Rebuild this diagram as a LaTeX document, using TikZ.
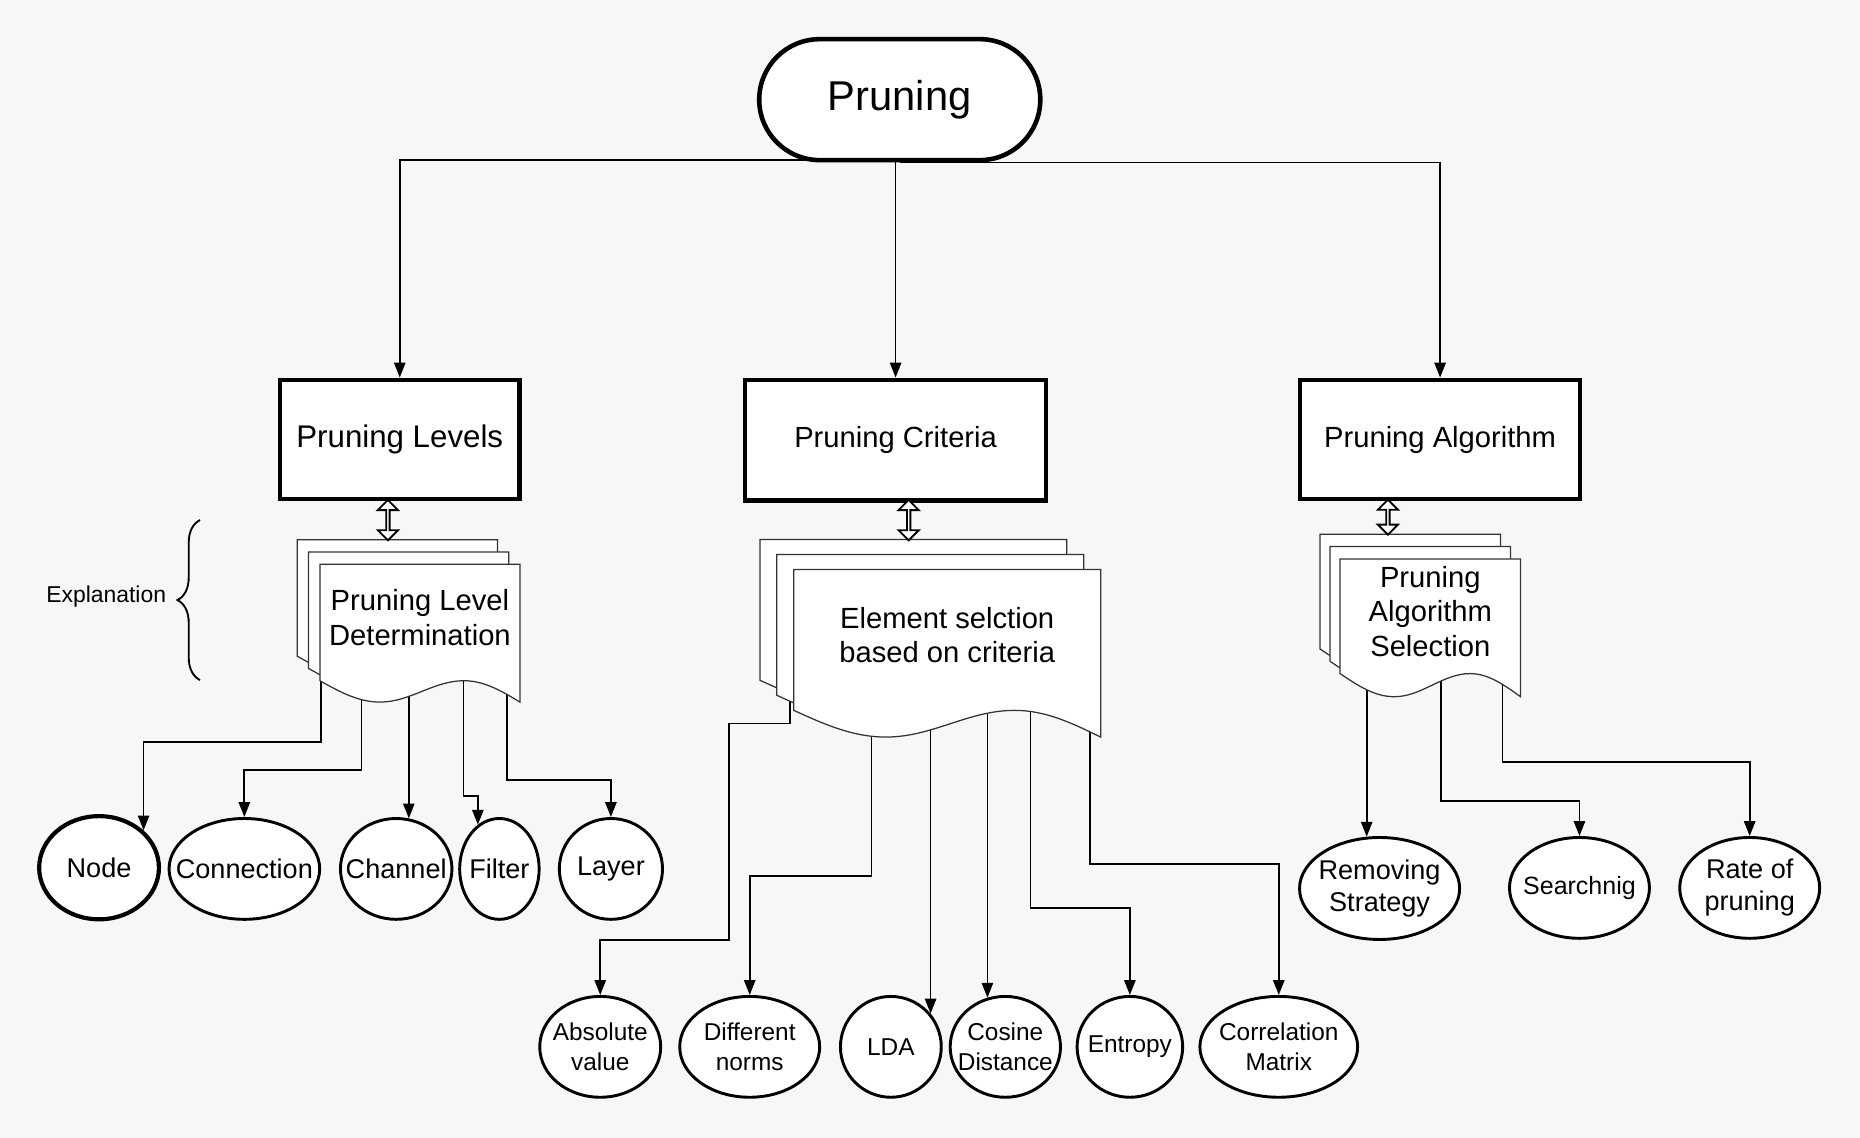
\documentclass[tikz,border=0pt]{standalone}
\usepackage{fontspec}
\setmainfont{Liberation Sans}
\usetikzlibrary{arrows.meta,positioning,shapes.geometric,shapes.arrows,
                calc,decorations.pathreplacing}
\definecolor{PaperGray}{HTML}{F7F7F7}
\definecolor{PageLine} {HTML}{333333}
\pgfdeclarelayer{backdrop}
\pgfdeclarelayer{edges}
\pgfdeclarelayer{pages}
\pgfsetlayers{backdrop,edges,pages,main}
\tikzset{
  topbox/.style={rectangle,rounded corners=1.02cm,draw,line width=2.2pt,fill=white,
                 minimum width=4.74cm,minimum height=2.04cm,
                 font=\fontsize{20}{24}\selectfont},
  headbox/.style={rectangle,draw,line width=2pt,fill=white,minimum height=2.02cm,
                  font=\fontsize{14}{17}\selectfont},
  docbox/.style={rectangle,inner sep=0pt},
  doctext/.style={align=center,yshift=0.08cm,font=\fontsize{14}{16.5}\selectfont},
  page/.style={draw=PageLine,line width=0.6pt,fill=white},
  leaf/.style={ellipse,draw,line width=1.4pt,fill=white,inner sep=-0.35cm,
               minimum height=1.70cm,align=center,font=\fontsize{13}{15.4}\selectfont},
  smallleaf/.style={leaf,font=\fontsize{11.7}{14}\selectfont},
  arr/.style={-{Triangle[length=0.25cm,width=0.19cm]},line width=0.85pt},
  link/.style={double arrow,draw,line width=0.9pt,fill=white,rotate=90,inner sep=0pt,
               minimum height=0.68cm,minimum width=0.34cm,
               double arrow head extend=0.08cm},
  brace/.style={decorate,decoration={brace,amplitude=0.38cm},line width=0.9pt},
}
% one sheet of a stacked document, moved by (#2,#3), wavy bottom of depth #4
\newcommand{\docpage}[4]{%
  \draw[page] ($(#1.south west)+(#2,#3)$)
    sin ($(#1.south west)!0.3!(#1.south east)+(#2,#3+#4)$)
    cos ($(#1.south west)!0.51!(#1.south east)+(#2,#3+#4/2)$)
    sin ($(#1.south west)!0.72!(#1.south east)+(#2,#3)$)
    cos ($(#1.south east)+(#2,#3+#4)$)
    -- ($(#1.north east)+(#2,#3)$) -- ($(#1.north west)+(#2,#3)$) -- cycle;}
\newcommand{\multidoc}[4]{%
  \docpage{#1}{-2*#2}{-2*#3}{#4}
  \docpage{#1}{-#2}{-#3}{#4}
  \docpage{#1}{0}{0}{#4}}

\begin{document}
\begin{tikzpicture}[x=0.02cm,y=-0.02cm]

  \begin{pgfonlayer}{backdrop}
    \fill[PaperGray] (0,0) rectangle (1568,959);
  \end{pgfonlayer}
  \useasboundingbox (0,0) rectangle (1568,959);

  % root and the three branches
  \node[topbox] (top) at (758.5,84) {Pruning};
  \node[headbox,minimum width=4.04cm,font=\fontsize{15}{18}\selectfont] (lev) at (337,370.5) {Pruning Levels};
  \node[headbox,minimum width=5.08cm,minimum height=2.04cm] (cri) at (755,371) {Pruning Criteria};
  \node[headbox,minimum width=4.72cm] (alg) at (1214,370.5) {Pruning Algorithm};

  % explanation documents
  \node[docbox,minimum width=3.36cm,minimum height=1.95cm,
        label={[doctext]center:Pruning Level\\Determination}] (levdoc) at (354,524.75) {};
  \node[docbox,minimum width=5.16cm,minimum height=2.36cm,
        label={[doctext]center:Element selction\\based on criteria}] (cridoc) at (798.5,539.5) {};
  \node[docbox,minimum width=3.03cm,minimum height=1.92cm,
        label={[doctext]center:Pruning\\Algorithm\\Selection}] (algdoc) at (1205.75,519.5) {};

  \node[link] (levlink) at (327,438.5) {};
  \node[link] (crilink) at (766,438.5) {};
  \node[link,minimum height=0.59cm] (alglink) at (1170,436) {};

  \node[font=\fontsize{11}{13}\selectfont] (expl) at (89.5,503) {Explanation};
  \draw[brace] (168.6,573.3) -- (168.6,438.4);

  % levels
  \node[leaf,line width=2pt,minimum width=2.02cm,minimum height=1.74cm] (nodeL) at (83.5,731.5) {Node};
  \node[leaf,minimum width=2.54cm] (conn) at (206,732.5) {Connection};
  \node[leaf,minimum width=1.88cm] (chan) at (334,732.5) {Channel};
  \node[leaf,minimum width=1.34cm] (filt) at (421,732.5) {Filter};
  \node[leaf,minimum width=1.74cm] (layr) at (515,732.5) {Layer};

  % criteria
  \node[smallleaf,minimum width=2.04cm] (absv) at (506,882.5) {Absolute\\value};
  \node[smallleaf,minimum width=2.36cm] (norm) at (632,882.5) {Different\\norms};
  \node[smallleaf,minimum width=1.70cm] (lda) at (751,882.5) {LDA};
  \node[smallleaf,minimum width=1.86cm] (cosd) at (847.5,882.5) {Cosine\\Distance};
  \node[smallleaf,minimum width=1.78cm] (entr) at (952.5,882.5) {Entropy};
  \node[smallleaf,minimum width=2.66cm] (corr) at (1078,882.5) {Correlation\\Matrix};

  % algorithm
  \node[leaf,minimum width=2.70cm,minimum height=1.72cm] (remv) at (1163,749) {Removing\\Strategy};
  \node[leaf,minimum width=2.36cm,font=\fontsize{12}{14}\selectfont] (srch) at (1331.5,748.5) {Searchnig};
  \node[leaf,minimum width=2.36cm] (rate) at (1475,748.5) {Rate of\\pruning};

  \begin{pgfonlayer}{pages}
    \multidoc{levdoc}{9.5}{10.3}{18}
    \multidoc{cridoc}{14.3}{12.7}{22.5}
    \multidoc{algdoc}{8.5}{10.4}{19.5}
  \end{pgfonlayer}

  \begin{pgfonlayer}{edges}
    \draw[arr] ($(top.south)+(0,-2)$) -| (lev.north);
    \draw[arr] (top.south -| cri.north) -- (cri.north);
    \draw[arr] (top.south) -| (alg.north);

    \draw[arr] ($(levdoc.south west)+(1,0)$) -- ++(0,51.5) -| (nodeL.40);
    \draw[arr] ($(levdoc.south west)+(35,0)$) -- ++(0,75.5) -| (conn.north);
    \draw[arr] (levdoc.south -| chan.76) -- (chan.76);
    \draw[arr] ($(levdoc.south west)+(121,0)$) -- ++(0,97.5) -| (filt.116);
    \draw[arr] ($(levdoc.south west)+(158,0)$) -- ++(0,83.5) -| (layr.north);

    \draw[arr] ($(cridoc.south west)+(-3.5,-20)$) -- ++(0,31) -- ++(-51,0) -- ++(0,182.5) -| (absv.north);
    \draw[arr] ($(cridoc.south west)+(65.5,0)$) -- ++(0,139.5) -| (norm.north);
    \draw[arr] (cridoc.south -| lda.40) -- (lda.40);
    \draw[arr] (cridoc.south -| cosd.110) -- (cosd.110);
    \draw[arr] ($(cridoc.south west)+(199.5,0)$) -- ++(0,166.5) -| (entr.north);
    \draw[arr] ($(cridoc.south west)+(249.5,0)$) -- ++(0,129.5) -| (corr.north);

    \draw[arr] (algdoc.south -| remv.104) -- (remv.104);
    \draw[arr] ($(algdoc.south west)+(85,0)$) -- ++(0,107.5) -| (srch.north);
    \draw[arr] ($(algdoc.south west)+(137,0)$) -- ++(0,74.5) -| (rate.north);
  \end{pgfonlayer}

\end{tikzpicture}
\end{document}
